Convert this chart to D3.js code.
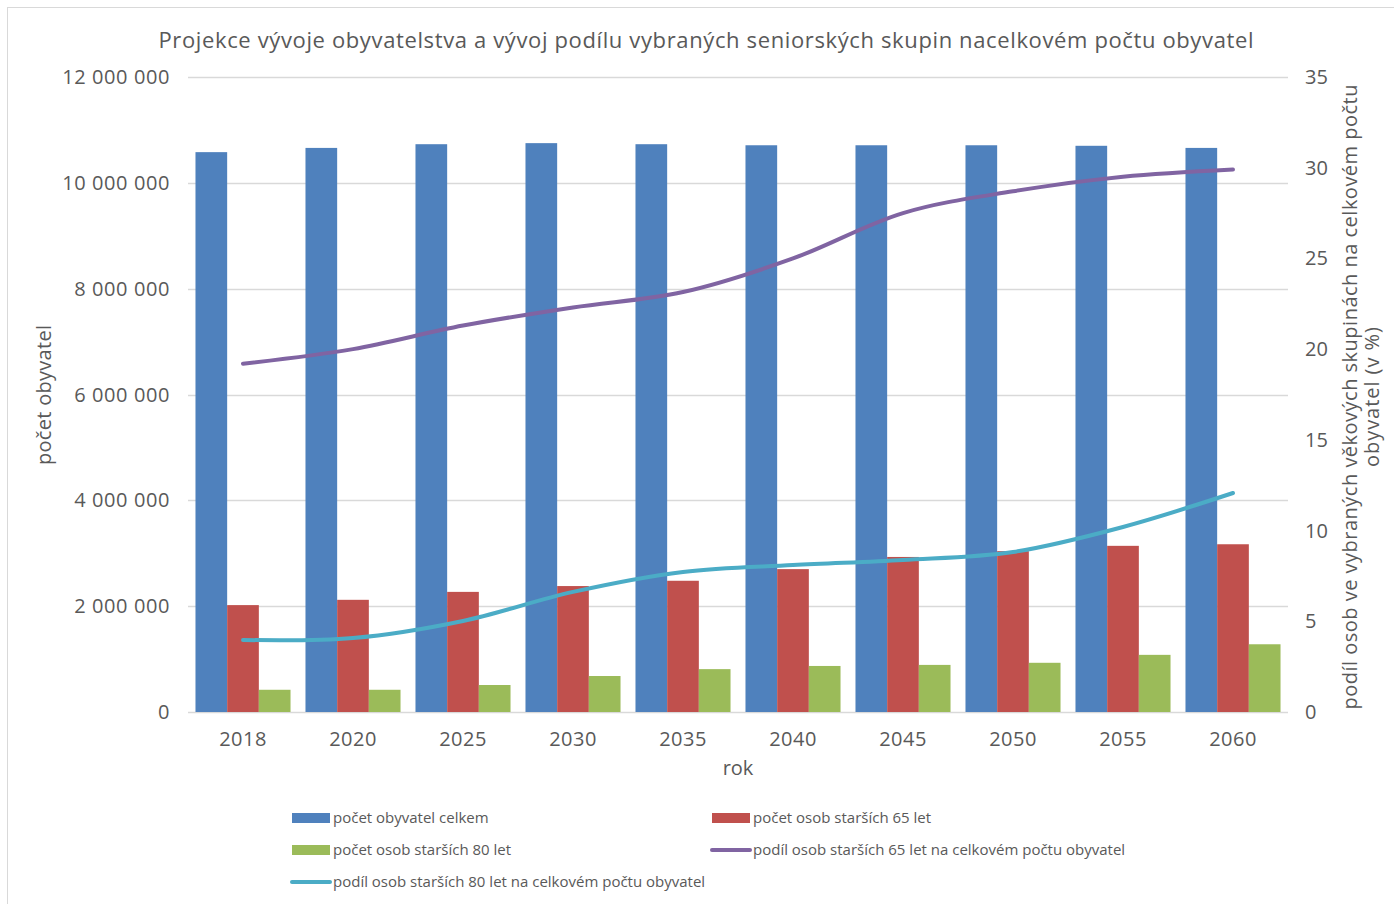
<!DOCTYPE html>
<html>
<head>
<meta charset="utf-8">
<script src="https://cdn.jsdelivr.net/npm/d3@7"></script>
<style>
  body { margin: 0; background: #fff; }
  svg text { font-family: "Open Sans", "Noto Sans", sans-serif; fill: #595959; }
</style>
</head>
<body>
<svg id="chart" width="1394" height="904"></svg>
<script>
// data
const years = ["2018", "2020", "2025", "2030", "2035", "2040", "2045", "2050", "2055", "2060"];
const popTotal = [10580000, 10660000, 10730000, 10750000, 10730000, 10710000, 10710000, 10710000, 10700000, 10660000];
const pop65 = [2020000, 2120000, 2270000, 2380000, 2480000, 2700000, 2930000, 3040000, 3140000, 3170000];
const pop80 = [420000, 420000, 510000, 680000, 810000, 870000, 890000, 930000, 1080000, 1280000];
const share65 = [19.2, 20.0, 21.3, 22.3, 23.15, 25.0, 27.5, 28.7, 29.5, 29.9];
const share80 = [3.97, 4.08, 5.02, 6.62, 7.72, 8.1, 8.38, 8.82, 10.2, 12.07];
const leftTicks = [0, 2000000, 4000000, 6000000, 8000000, 10000000, 12000000];
const rightTicks = [0, 5, 10, 15, 20, 25, 30, 35];

const barSeries = [
  { name: "počet obyvatel celkem", values: popTotal, color: "#4f81bd" },
  { name: "počet osob starších 65 let", values: pop65, color: "#c0504d" },
  { name: "počet osob starších 80 let", values: pop80, color: "#9bbb59" }
];
const lineSeries = [
  { name: "podíl osob starších 65 let na celkovém počtu obyvatel", values: share65, color: "#8064a2" },
  { name: "podíl osob starších 80 let na celkovém počtu obyvatel", values: share80, color: "#4bacc6" }
];

const svg = d3.select("#chart");
const plotLeft = 188, plotRight = 1288, plotTop = 77, plotBottom = 712;

// chart frame
svg.append("rect").attr("x", 7.5).attr("y", 7.5).attr("width", 1400).attr("height", 1000)
  .attr("fill", "none").attr("stroke", "#d9d9d9");

const x = d3.scaleBand().domain(years).range([plotLeft, plotRight]).paddingInner(0.136).paddingOuter(0.068);
const xs = d3.scaleBand().domain(d3.range(barSeries.length)).range([0, x.bandwidth()]);
const yL = d3.scaleLinear().domain([0, 12000000]).range([plotBottom, plotTop]);
const yR = d3.scaleLinear().domain([0, 35]).range([plotBottom, plotTop]);

// gridlines
svg.append("g").selectAll("line").data(leftTicks).join("line")
  .attr("x1", plotLeft).attr("x2", plotRight)
  .attr("y1", d => Math.round(yL(d)) + 0.5).attr("y2", d => Math.round(yL(d)) + 0.5)
  .attr("stroke", "#d9d9d9").attr("stroke-width", 1.5);

// bars
svg.append("g").selectAll("g").data(barSeries).join("g")
  .attr("fill", d => d.color)
  .selectAll("rect").data((s, i) => s.values.map((v, j) => ({ v, year: years[j], i })))
  .join("rect")
  .attr("x", d => x(d.year) + xs(d.i))
  .attr("width", xs.bandwidth())
  .attr("y", d => yL(d.v))
  .attr("height", d => yL(0) - yL(d.v));

// lines (excel-style smoothing)
const line = d3.line().curve(d3.curveCatmullRom.alpha(0.5))
  .x((d, i) => x(years[i]) + x.bandwidth() / 2)
  .y(d => yR(d));
svg.append("g").selectAll("path").data(lineSeries).join("path")
  .attr("d", d => line(d.values))
  .attr("fill", "none")
  .attr("stroke", d => d.color)
  .attr("stroke-width", 4)
  .attr("stroke-linecap", "round");

// left axis labels
const fmt = v => d3.format(",")(v).replace(/,/g, " ");
svg.append("g").selectAll("text").data(leftTicks).join("text")
  .attr("x", 170).attr("y", d => yL(d)).attr("dy", "0.35em")
  .attr("text-anchor", "end").style("font-size", "20px").style("letter-spacing", "0.6px")
  .text(fmt);

// right axis labels
svg.append("g").selectAll("text").data(rightTicks).join("text")
  .attr("x", 1305).attr("y", d => yR(d)).attr("dy", "0.35em")
  .attr("text-anchor", "start").style("font-size", "20px")
  .text(d => d);

// category labels
svg.append("g").selectAll("text").data(years).join("text")
  .attr("x", d => x(d) + x.bandwidth() / 2).attr("y", 739).attr("dy", "0.35em")
  .attr("text-anchor", "middle").style("font-size", "20px").style("letter-spacing", "0.5px")
  .text(d => d);

// titles
svg.append("text").attr("x", 706).attr("y", 40).attr("dy", "0.35em")
  .attr("text-anchor", "middle").style("font-size", "22px")
  .attr("textLength", 1095).attr("lengthAdjust", "spacing")
  .text("Projekce vývoje obyvatelstva a vývoj podílu vybraných seniorských skupin nacelkovém počtu obyvatel");

svg.append("text").attr("x", 738).attr("y", 768).attr("dy", "0.35em")
  .attr("text-anchor", "middle").style("font-size", "20px").text("rok");

svg.append("text").attr("transform", "translate(44,395) rotate(-90)").attr("dy", "0.35em")
  .attr("text-anchor", "middle").style("font-size", "20px").attr("textLength", 140)
  .text("počet obyvatel");

const rt = svg.append("text").attr("transform", "translate(1350,397) rotate(-90)")
  .attr("text-anchor", "middle").style("font-size", "20px");
rt.append("tspan").attr("x", 0).attr("dy", "0.35em").attr("textLength", 625)
  .text("podíl osob ve vybraných věkových skupinách  na celkovém počtu");
rt.append("tspan").attr("x", 0).attr("dy", "1.1em").attr("textLength", 140)
  .text("obyvatel (v %)");

// legend
const legendItems = [
  { s: barSeries[0], type: "bar", col: 0, row: 0 },
  { s: barSeries[1], type: "bar", col: 1, row: 0 },
  { s: barSeries[2], type: "bar", col: 0, row: 1 },
  { s: lineSeries[0], type: "line", col: 1, row: 1 },
  { s: lineSeries[1], type: "line", col: 0, row: 2 }
];
const lg = svg.append("g").selectAll("g").data(legendItems).join("g")
  .attr("transform", d => `translate(${d.col ? 712 : 292},${818 + d.row * 32})`);
lg.filter(d => d.type === "bar").append("rect")
  .attr("x", 0).attr("y", -5).attr("width", 38).attr("height", 10).attr("fill", d => d.s.color);
lg.filter(d => d.type === "line").append("line")
  .attr("x1", 0).attr("x2", 38).attr("y1", 0).attr("y2", 0)
  .attr("stroke", d => d.s.color).attr("stroke-width", 4).attr("stroke-linecap", "round");
lg.append("text").attr("x", 41).attr("y", 0).attr("dy", "0.35em")
  .style("font-size", "15px").text(d => d.s.name);
</script>
</body>
</html>
